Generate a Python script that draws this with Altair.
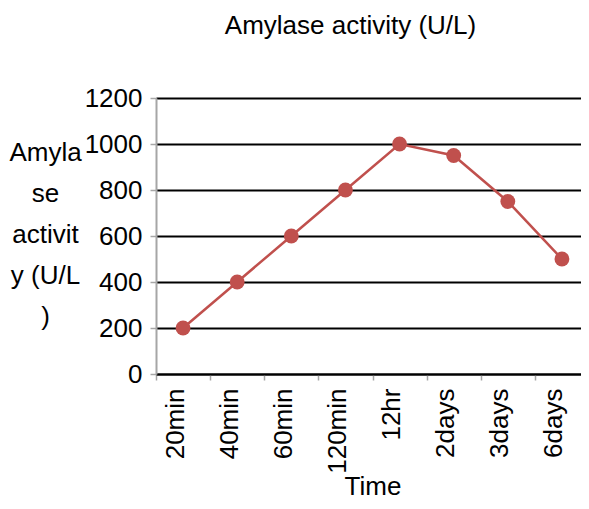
import altair as alt
import pandas as pd

times = ["20min", "40min", "60min", "120min", "12hr", "2days", "3days", "6days"]
activity = [200, 400, 600, 800, 1000, 950, 750, 500]
y_ticks = [0, 200, 400, 600, 800, 1000, 1200]
y_title = ["Amyla", "se", "activit", "y (U/L", ")"]

df = pd.DataFrame({"Time": times, "Activity": activity})

FONT = "Liberation Sans"
RED = "#c0504d"
GRAY = "#a6a6a6"
FS = 26

base = alt.Chart(df).encode(
    x=alt.X(
        "Time:N",
        sort=times,
        bandPosition=0.5,
        scale=alt.Scale(type="band", paddingInner=0, paddingOuter=0),
        axis=alt.Axis(
            title="Time",
            labelAngle=-90,
            labelAlign="right",
            labelBaseline="alphabetic",
            labelPadding=8,
            labelFont=FONT,
            labelFontSize=FS,
            labelColor="black",
            tickBand="extent",
            tickSize=6,
            tickColor=GRAY,
            tickWidth=1.5,
            domainColor="black",
            domainWidth=2,
            grid=False,
            titleFont=FONT,
            titleFontSize=FS,
            titleFontWeight="normal",
            titleColor="black",
            titleBaseline="alphabetic",
            titleY=120,
        ),
    ),
    y=alt.Y(
        "Activity:Q",
        scale=alt.Scale(domain=[0, 1200]),
        axis=alt.Axis(
            values=y_ticks,
            format="d",
            title=y_title,
            titleAngle=0,
            titleAlign="center",
            titleBaseline="middle",
            titleX=-111,
            titleY=54,
            titleLineHeight=41,
            titleFont=FONT,
            titleFontSize=FS,
            titleFontWeight="normal",
            titleColor="black",
            labelFont=FONT,
            labelFontSize=FS,
            labelColor="black",
            labelPadding=8,
            tickSize=6,
            tickColor=GRAY,
            tickWidth=1.5,
            domainColor=GRAY,
            domainWidth=2,
            grid=True,
            gridColor="black",
            gridWidth=2,
            gridOpacity=1,
        ),
    ),
)

line = base.mark_line(color=RED, strokeWidth=2.5)
pts = base.mark_circle(color=RED, size=220, opacity=1)

chart = (
    (line + pts)
    .properties(
        width=433,
        height=276,
        padding={"left": 148, "top": 90, "right": -8, "bottom": 127},
        autosize=alt.AutoSizeParams(type="none"),
        title=alt.TitleParams(
            "Amylase activity (U/L)",
            font=FONT,
            fontSize=FS,
            fontWeight="normal",
            color="black",
            anchor="middle",
            frame="group",
            dx=-22,
            offset=25,
            baseline="alphabetic",
        ),
    )
    .configure_view(stroke=None)
)

chart.save("out.html", embed_options={"renderer": "svg", "actions": False})
